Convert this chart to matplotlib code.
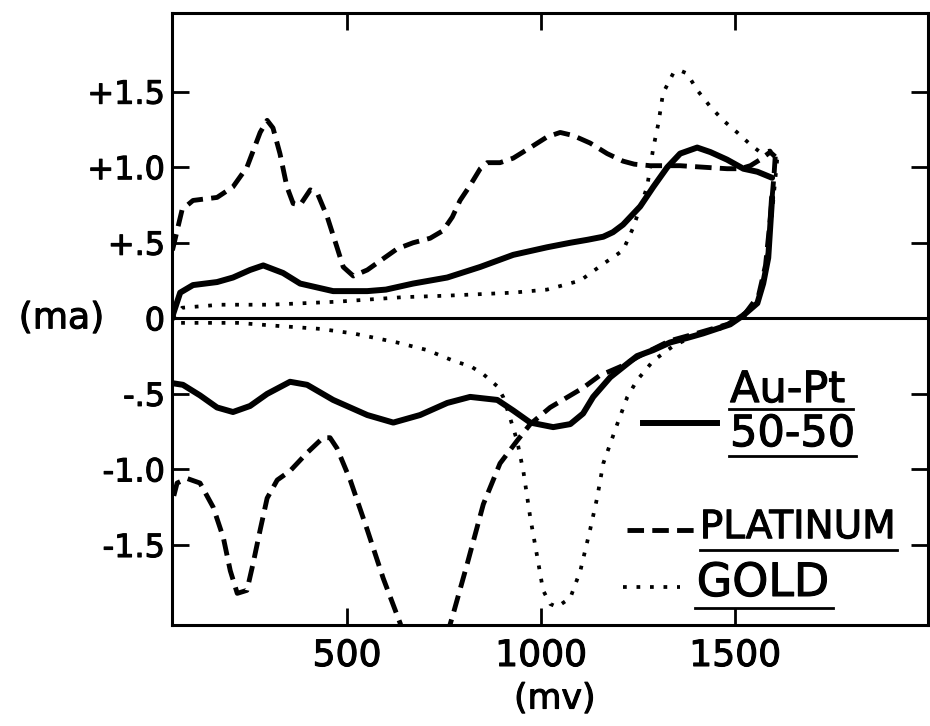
import matplotlib
matplotlib.use("Agg")
import matplotlib.pyplot as plt
import matplotlib.patheffects as pe
from matplotlib.transforms import blended_transform_factory

# Cyclic voltammograms, current (ma) vs potential (mv)

# Au-Pt 50-50 (solid), anodic sweep then cathodic sweep
aupt_an_mv = [50, 52, 70, 103, 165, 206, 250, 284, 335, 379, 464, 552, 600, 670, 758, 843,
              928, 1015, 1075, 1120, 1160, 1185, 1211, 1255, 1289, 1325, 1358, 1402, 1436,
              1479, 1521, 1557, 1595]
aupt_an_ma = [0.0, 0.03, 0.17, 0.22, 0.24, 0.27, 0.32, 0.35, 0.30, 0.23, 0.18, 0.18, 0.19,
              0.23, 0.27, 0.34, 0.42, 0.47, 0.50, 0.52, 0.54, 0.57, 0.62, 0.74, 0.87, 1.00,
              1.09, 1.13, 1.10, 1.05, 0.99, 0.97, 0.93]
aupt_cath_mv = [1595, 1590, 1585, 1572, 1557, 1521, 1487, 1417, 1376, 1332, 1289, 1247, 1222,
                1178, 1134, 1108, 1075, 1031, 972, 928, 887, 817, 758, 688, 619, 552, 464,
                397, 353, 294, 250, 206, 165, 121, 77, 52]
aupt_cath_ma = [0.80, 0.60, 0.40, 0.23, 0.10, 0.02, -0.04, -0.10, -0.13, -0.16, -0.21, -0.25,
                -0.30, -0.39, -0.52, -0.63, -0.70, -0.72, -0.69, -0.61, -0.54, -0.52, -0.56,
                -0.64, -0.69, -0.64, -0.54, -0.44, -0.42, -0.50, -0.58, -0.62, -0.59, -0.51,
                -0.44, -0.43]

# Platinum (dashed)
pt_an_mv = [50, 62, 75, 103, 165, 206, 242, 276, 294, 309, 327, 345, 361, 379, 405, 423, 449,
            474, 490, 516, 552, 585, 629, 670, 714, 747, 771, 791, 817, 843, 861, 894, 928,
            972, 1015, 1049, 1082, 1126, 1170, 1211, 1240, 1281, 1358, 1418, 1479, 1513,
            1539, 1564, 1590, 1603]
pt_an_ma = [0.45, 0.58, 0.72, 0.78, 0.80, 0.87, 1.00, 1.23, 1.31, 1.26, 1.09, 0.87, 0.76,
            0.75, 0.85, 0.83, 0.67, 0.47, 0.34, 0.28, 0.32, 0.38, 0.46, 0.50, 0.53, 0.58,
            0.67, 0.78, 0.88, 0.99, 1.03, 1.03, 1.06, 1.13, 1.20, 1.23, 1.21, 1.16, 1.09,
            1.04, 1.02, 1.01, 1.01, 1.00, 0.99, 0.99, 1.01, 1.05, 1.10, 1.07]
pt_cath_mv = [1603, 1600, 1590, 1578, 1560, 1525, 1480, 1400, 1330, 1260, 1204, 1150, 1108,
              1023, 972, 938, 894, 851, 810, 774, 700, 637, 593, 552, 508, 474, 456, 438,
              397, 353, 320, 294, 276, 258, 242, 217, 199, 181, 155, 121, 88, 62, 50]
pt_cath_ma = [1.07, 0.95, 0.65, 0.35, 0.15, 0.03, -0.04, -0.10, -0.15, -0.24, -0.32, -0.38,
              -0.46, -0.59, -0.70, -0.81, -0.96, -1.23, -1.62, -1.95, -2.6, -2.02, -1.72,
              -1.40, -1.07, -0.86, -0.79, -0.79, -0.89, -1.01, -1.07, -1.19, -1.40, -1.62,
              -1.80, -1.82, -1.67, -1.45, -1.25, -1.09, -1.06, -1.09, -1.21]

# Gold (dotted)
au_an_mv = [50, 75, 173, 302, 474, 644, 758, 928, 1015, 1101, 1160, 1211, 1237, 1273, 1289,
            1302, 1314, 1340, 1358, 1376, 1402, 1436, 1469, 1505, 1539, 1564, 1590, 1608]
au_an_ma = [0.0, 0.07, 0.09, 0.09, 0.11, 0.14, 0.15, 0.17, 0.19, 0.25, 0.36, 0.45, 0.60,
            0.87, 1.13, 1.29, 1.49, 1.62, 1.64, 1.62, 1.51, 1.40, 1.31, 1.23, 1.15, 1.10,
            1.11, 1.05]
au_cath_mv = [1608, 1595, 1580, 1560, 1520, 1460, 1400, 1342, 1289, 1247, 1222, 1196, 1160,
              1144, 1126, 1101, 1075, 1041, 1023, 1005, 990, 972, 954, 938, 920, 902, 887,
              851, 820, 773, 706, 629, 516, 431, 320, 217, 129, 70, 50]
au_cath_ma = [1.05, 0.70, 0.35, 0.12, 0.00, -0.07, -0.11, -0.18, -0.28, -0.41, -0.52, -0.70,
              -0.96, -1.19, -1.40, -1.67, -1.85, -1.91, -1.89, -1.80, -1.58, -1.32, -1.01,
              -0.81, -0.66, -0.52, -0.45, -0.37, -0.32, -0.28, -0.21, -0.16, -0.10, -0.07,
              -0.05, -0.03, -0.03, -0.03, 0.0]

x_ticks = [500, 1000, 1500]
x_tick_labels = ['500', '1000', '1500']
y_ticks = [1.5, 1.0, 0.5, 0, -0.5, -1.0, -1.5]
y_tick_labels = ['+1.5', '+1.0', '+.5', '0', '-.5', '-1.0', '-1.5']

plt.rcParams['font.family'] = ['DejaVu Sans']

# thicker strokes, like pen lettering
heavy = [pe.withStroke(linewidth=0.8, foreground='black')]

fig = plt.figure(figsize=(9.3, 7.26), dpi=100)
ax = fig.add_axes([0.185, 0.139, 0.813, 0.843])

dotted = (0, (1, 2.6))
dashed = (0, (3.4, 1.7))
line_kw = dict(color='black', solid_joinstyle='round', dash_joinstyle='round')

ax.axhline(0, color='black', lw=2.2, zorder=1)

ax.plot(au_an_mv, au_an_ma, lw=2.7, linestyle=dotted, **line_kw)
ax.plot(au_cath_mv, au_cath_ma, lw=2.7, linestyle=dotted, **line_kw)
ax.plot(pt_an_mv, pt_an_ma, lw=3.5, linestyle=dashed, **line_kw)
ax.plot(pt_cath_mv, pt_cath_ma, lw=3.5, linestyle=dashed, **line_kw)
ax.plot(aupt_an_mv, aupt_an_ma, lw=4.3, solid_capstyle='round', **line_kw)
ax.plot(aupt_cath_mv, aupt_cath_ma, lw=4.3, solid_capstyle='round', **line_kw)

ax.set_xlim(49, 1997)
ax.set_ylim(-2.03, 2.02)

ax.set_xticks(x_ticks)
ax.set_xticklabels(x_tick_labels, fontsize=26)
ax.set_yticks(y_ticks)
ax.set_yticklabels(y_tick_labels, fontsize=23)
ax.tick_params(direction='in', length=12, width=2, top=True, right=True)
ax.tick_params(axis='x', pad=10)
ax.tick_params(axis='y', pad=5)
for lab in ax.get_xticklabels() + ax.get_yticklabels():
    lab.set_path_effects(heavy)
for s in ax.spines.values():
    s.set_linewidth(2.2)

# axis labels
trans = blended_transform_factory(ax.transAxes, ax.transData)
ax.text(-0.09, 0, '(ma)', transform=trans, ha='right', va='center', fontsize=26,
        path_effects=heavy)
trans_x = blended_transform_factory(ax.transData, ax.transAxes)
ax.text(1035, -0.12, '(mv)', transform=trans_x, ha='center', va='center', fontsize=25,
        path_effects=heavy)

# hand-drawn legend
ax.plot([0.623, 0.721], [0.330, 0.330], transform=ax.transAxes, lw=4.3, **line_kw)
ax.text(0.738, 0.384, 'Au-Pt', transform=ax.transAxes, ha='left', va='center', fontsize=31,
        path_effects=heavy)
ax.plot([0.736, 0.901], [0.353, 0.353], transform=ax.transAxes, lw=2, **line_kw)
ax.text(0.738, 0.312, '50-50', transform=ax.transAxes, ha='left', va='center', fontsize=31,
        path_effects=heavy)
ax.plot([0.736, 0.904], [0.276, 0.276], transform=ax.transAxes, lw=2, **line_kw)

ax.plot([0.602, 0.694], [0.155, 0.155], transform=ax.transAxes, lw=3.5, linestyle=dashed,
        **line_kw)
ax.text(0.698, 0.160, 'PLATINUM', transform=ax.transAxes, ha='left', va='center', fontsize=28,
        path_effects=heavy)
ax.plot([0.698, 0.959], [0.123, 0.123], transform=ax.transAxes, lw=2, **line_kw)

ax.plot([0.597, 0.672], [0.062, 0.062], transform=ax.transAxes, lw=2.7, linestyle=dotted,
        **line_kw)
ax.text(0.694, 0.068, 'GOLD', transform=ax.transAxes, ha='left', va='center', fontsize=33,
        path_effects=heavy)
ax.plot([0.692, 0.874], [0.028, 0.028], transform=ax.transAxes, lw=2, **line_kw)

fig.savefig('out.png', dpi=100)
